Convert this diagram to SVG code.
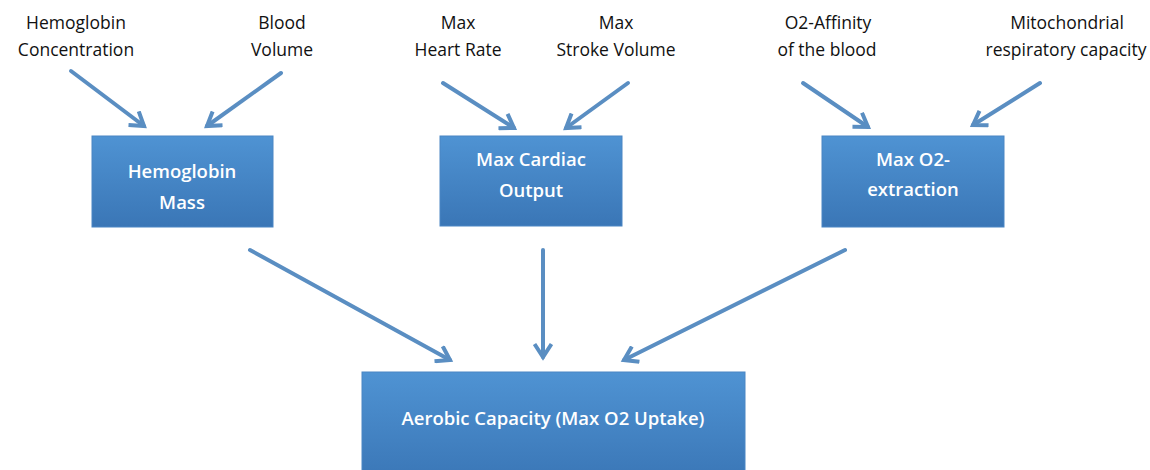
<svg xmlns="http://www.w3.org/2000/svg" width="1150" height="470" viewBox="0 0 1150 470">
  <style>
    .lbl { font-family: "Open Sans", "Liberation Sans", sans-serif; font-size: 17.5px; fill: #111; text-anchor: middle; }
    .box { fill: url(#boxGrad); stroke: #4a86c4; stroke-width: 1; }
    .btxt { font-family: "Open Sans", "Liberation Sans", sans-serif; font-size: 18.5px; font-weight: 600; fill: #ffffff; text-anchor: middle; }
    .arr { fill: none; stroke: #5a8ec2; stroke-width: 4; stroke-linecap: round; marker-end: url(#head); }
  </style>
  <defs>
    <linearGradient id="boxGrad" x1="0" y1="0" x2="0" y2="1">
      <stop offset="0" stop-color="#4f93d3"/>
      <stop offset="1" stop-color="#3a76b6"/>
    </linearGradient>
    <marker id="head" viewBox="0 0 20 20" refX="16" refY="10" markerWidth="20" markerHeight="20" markerUnits="userSpaceOnUse" orient="auto">
      <path d="M3,1.5 L16,10 L3,18.5" fill="none" stroke="#5a8ec2" stroke-width="4" stroke-linejoin="miter"/>
    </marker>
  </defs>
  <rect width="1150" height="470" fill="#ffffff"/>

  <g id="labels">
    <g id="lbl-hemoconc"><text class="lbl" x="76" y="29">Hemoglobin</text><text class="lbl" x="76" y="56">Concentration</text></g>
    <g id="lbl-bloodvol"><text class="lbl" x="282" y="29">Blood</text><text class="lbl" x="282" y="56">Volume</text></g>
    <g id="lbl-hr"><text class="lbl" x="458" y="29">Max</text><text class="lbl" x="458" y="56">Heart Rate</text></g>
    <g id="lbl-sv"><text class="lbl" x="616" y="29">Max</text><text class="lbl" x="616" y="56">Stroke Volume</text></g>
    <g id="lbl-affinity"><text class="lbl" x="828" y="29">O2-Affinity</text><text class="lbl" x="827" y="56">of the blood</text></g>
    <g id="lbl-mito"><text class="lbl" x="1067" y="29">Mitochondrial</text><text class="lbl" x="1066" y="56">respiratory capacity</text></g>
  </g>

  <g id="connectors">
    <line class="arr" x1="71" y1="71" x2="144" y2="126"/>
    <line class="arr" x1="281" y1="73" x2="207" y2="126"/>
    <line class="arr" x1="443" y1="83" x2="514" y2="128"/>
    <line class="arr" x1="628" y1="83" x2="566" y2="128"/>
    <line class="arr" x1="803" y1="83" x2="868" y2="127"/>
    <line class="arr" x1="1040" y1="83" x2="973" y2="125"/>
    <line class="arr" x1="250" y1="250" x2="450" y2="360"/>
    <line class="arr" x1="543" y1="250" x2="543" y2="357"/>
    <line class="arr" x1="845" y1="250" x2="624" y2="360"/>
  </g>

  <g id="node-hemomass">
    <rect class="box" x="92" y="136" width="181" height="91"/>
    <text class="btxt" x="182" y="178">Hemoglobin</text>
    <text class="btxt" x="182" y="209">Mass</text>
  </g>
  <g id="node-cardiac">
    <rect class="box" x="440" y="136" width="182" height="90"/>
    <text class="btxt" x="531" y="166">Max Cardiac</text>
    <text class="btxt" x="531" y="197">Output</text>
  </g>
  <g id="node-extraction">
    <rect class="box" x="822" y="136" width="182" height="91"/>
    <text class="btxt" x="913" y="166">Max O2-</text>
    <text class="btxt" x="913" y="196">extraction</text>
  </g>
  <g id="node-aerobic">
    <rect class="box" x="362" y="372" width="383" height="110"/>
    <text class="btxt" x="553" y="425">Aerobic Capacity (Max O2 Uptake)</text>
  </g>
</svg>
